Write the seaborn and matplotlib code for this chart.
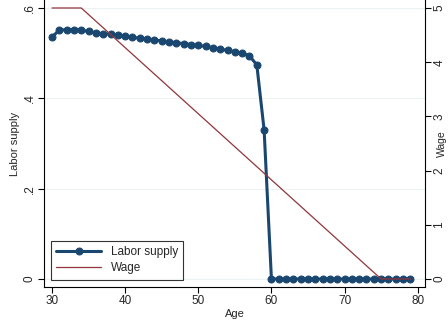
import numpy as np
import pandas as pd
import matplotlib
matplotlib.use("Agg")
import matplotlib.pyplot as plt
import seaborn as sns

# ages 30..79
age = list(range(30, 80))
labor_supply = [0.536, 0.551, 0.552, 0.552, 0.551, 0.548, 0.545, 0.543, 0.542, 0.540,
                0.537, 0.535, 0.533, 0.531, 0.529, 0.527, 0.525, 0.523, 0.521, 0.519,
                0.517, 0.515, 0.512, 0.509, 0.506, 0.503, 0.500, 0.494, 0.474, 0.330,
                0.0, 0.0, 0.0, 0.0, 0.0, 0.0, 0.0, 0.0, 0.0, 0.0,
                0.0, 0.0, 0.0, 0.0, 0.0, 0.0, 0.0, 0.0, 0.0, 0.0]
wage_age = [30, 34, 75, 79]
wage = [5.0, 5.0, 0.0, 0.0]

navy = "#1a476f"
maroon = "#90353b"

df = pd.DataFrame({"age": age, "ls": labor_supply})
dw = pd.DataFrame({"age": wage_age, "wage": wage})

sns.set_style("white")
plt.rcParams["font.family"] = ["Liberation Sans", "DejaVu Sans"]

fig = plt.figure(figsize=(4.48, 3.22), dpi=100)
ax = fig.add_axes([44/448, 35/322, (425-44)/448, 287/322])
ax2 = ax.twinx()

ylo, yhi = -0.0177, 0.6177
ax.set_ylim(ylo, yhi)
ax2.set_ylim(ylo * 5 / 0.6, yhi * 5 / 0.6)
ax.set_xlim(28.9, 81.0)

for v in [0, 0.2, 0.4, 0.6]:
    ax.axhline(v, color="#eaf2f3", lw=0.8, zorder=0)

sns.lineplot(data=df, x="age", y="ls", ax=ax, color=navy, lw=2.2, marker="o",
             markersize=5, markeredgecolor=navy, label="Labor supply", legend=False, zorder=3)
sns.lineplot(data=dw, x="age", y="wage", ax=ax2, color=maroon, lw=0.9, label="Wage",
             legend=False, zorder=2)

ax.set_yticks([0, 0.2, 0.4, 0.6])
ax.set_yticklabels(["0", ".2", ".4", ".6"], rotation=90, va="center")
ax2.set_yticks([0, 1, 2, 3, 4, 5])
ax2.set_yticklabels(["0", "1", "2", "3", "4", "5"], rotation=90, va="center")
ax.set_xticks([30, 40, 50, 60, 70, 80])

ax.set_xlabel("Age", fontsize=8, labelpad=1)
ax.set_ylabel("Labor supply", fontsize=8)
ax.yaxis.set_label_coords(-0.063, 0.5)
ax2.set_ylabel("Wage", fontsize=7.5)
ax2.yaxis.set_label_coords(1.031, 0.5)

for a in (ax, ax2):
    a.tick_params(axis="both", labelsize=8.5, length=4, width=0.8, color="black", pad=2,
                  direction="out")
    for s in a.spines.values():
        s.set_visible(False)
ax.spines["left"].set_visible(True)
ax.spines["bottom"].set_visible(True)
ax2.spines["right"].set_visible(True)
for s in (ax.spines["left"], ax.spines["bottom"], ax2.spines["right"]):
    s.set_color("black")
    s.set_linewidth(0.8)
ax.tick_params(axis="x", bottom=True)
ax.tick_params(axis="y", left=True)
ax2.tick_params(axis="y", right=True)

h1, l1 = ax.get_legend_handles_labels()
h2, l2 = ax2.get_legend_handles_labels()
leg = ax2.legend(h1 + h2, l1 + l2, loc="lower left", bbox_to_anchor=(0.003, 0.005),
                 fontsize=8.5, frameon=True, fancybox=False, handlelength=3.8,
                 borderpad=0.45, labelspacing=0.35)
leg.get_frame().set_edgecolor("black")
leg.get_frame().set_linewidth(0.8)

fig.savefig("out.png", dpi=100)
